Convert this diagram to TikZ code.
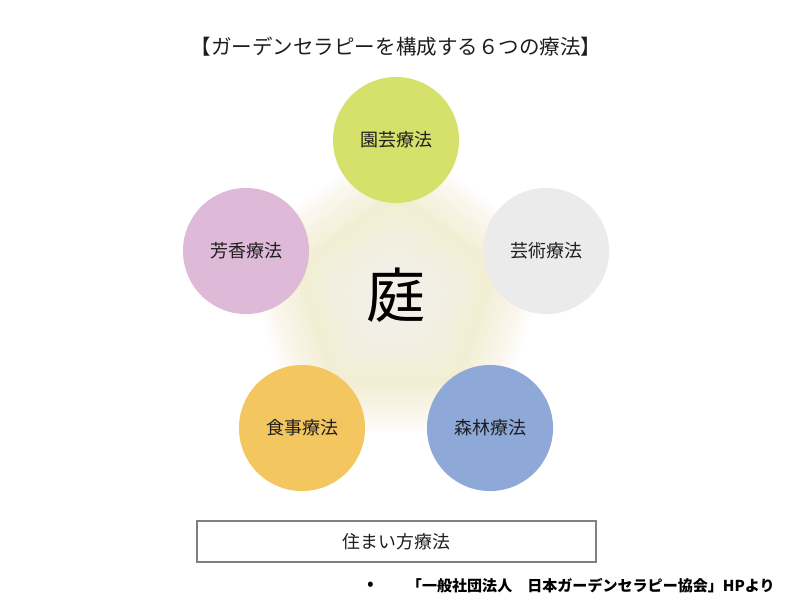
\documentclass[tikz,border=0pt]{standalone}
\usepackage{fontspec}
\setmainfont{Noto Sans CJK JP}
\usetikzlibrary{positioning}

\definecolor{engeicol}{RGB}{214,225,108}
\definecolor{geijutsucol}{RGB}{235,235,235}
\definecolor{shinrincol}{RGB}{142,169,216}
\definecolor{shokujicol}{RGB}{243,198,96}
\definecolor{houkoucol}{RGB}{222,185,216}
\definecolor{glowcol}{RGB}{242,220,150}
\definecolor{inkcol}{RGB}{30,30,30}

\tikzset{
  therapy/.style={circle, minimum size=3.15cm, inner sep=0pt, text=inkcol, font=\fontsize{12.8}{14}\selectfont},
  sumaibox/.style={draw=black!50, line width=1.4pt, minimum width=9.95cm, minimum height=1.02cm, font=\fontsize{12.7}{14}\selectfont, text=inkcol}
}

\begin{document}
\begin{tikzpicture}[x=0.025cm, y=-0.025cm]

\useasboundingbox (0,0) rectangle (800,600);
\fill[white] (0,0) rectangle (800,600);

% glow behind the garden
\foreach \r in {165,160,...,105}
  \fill[glowcol, opacity=0.035, rounded corners=20] (396,299) +(-90:\r) -- +(-18:\r) -- +(54:\r) -- +(126:\r) -- +(198:\r) -- cycle;
\foreach \r in {100,95,...,40}
  \fill[white, opacity=0.06, rounded corners=15] (396,299) +(-90:\r) -- +(-18:\r) -- +(54:\r) -- +(126:\r) -- +(198:\r) -- cycle;

\node[font=\fontsize{14.6}{16}\selectfont, text=inkcol] (title) at (396,47) {【ガーデンセラピーを構成する６つの療法】};

\node[therapy, fill=engeicol] (engei) at (396,140) {園芸療法};
\node[therapy, fill=geijutsucol] (geijutsu) at (546,251) {芸術療法};
\node[therapy, fill=shinrincol] (shinrin) at (490,428) {森林療法};
\node[therapy, fill=shokujicol] (shokuji) at (302,428) {食事療法};
\node[therapy, fill=houkoucol] (houkou) at (246,251) {芳香療法};

\node[font=\fontsize{42}{46}\selectfont, text=black] (niwa) at (396,295) {庭};

\node[sumaibox] (sumai) at (396.5,541.5) {住まい方療法};

\node[font=\fontsize{10.7}{12}\bfseries, text=black, anchor=west] (note) at (402,586) {「一般社団法人　日本ガーデンセラピー協会」HPより};
\node[font=\fontsize{14}{14}\selectfont, left=0.7cm of note.west, inner sep=0pt] (bullet) {•};

\end{tikzpicture}
\end{document}
